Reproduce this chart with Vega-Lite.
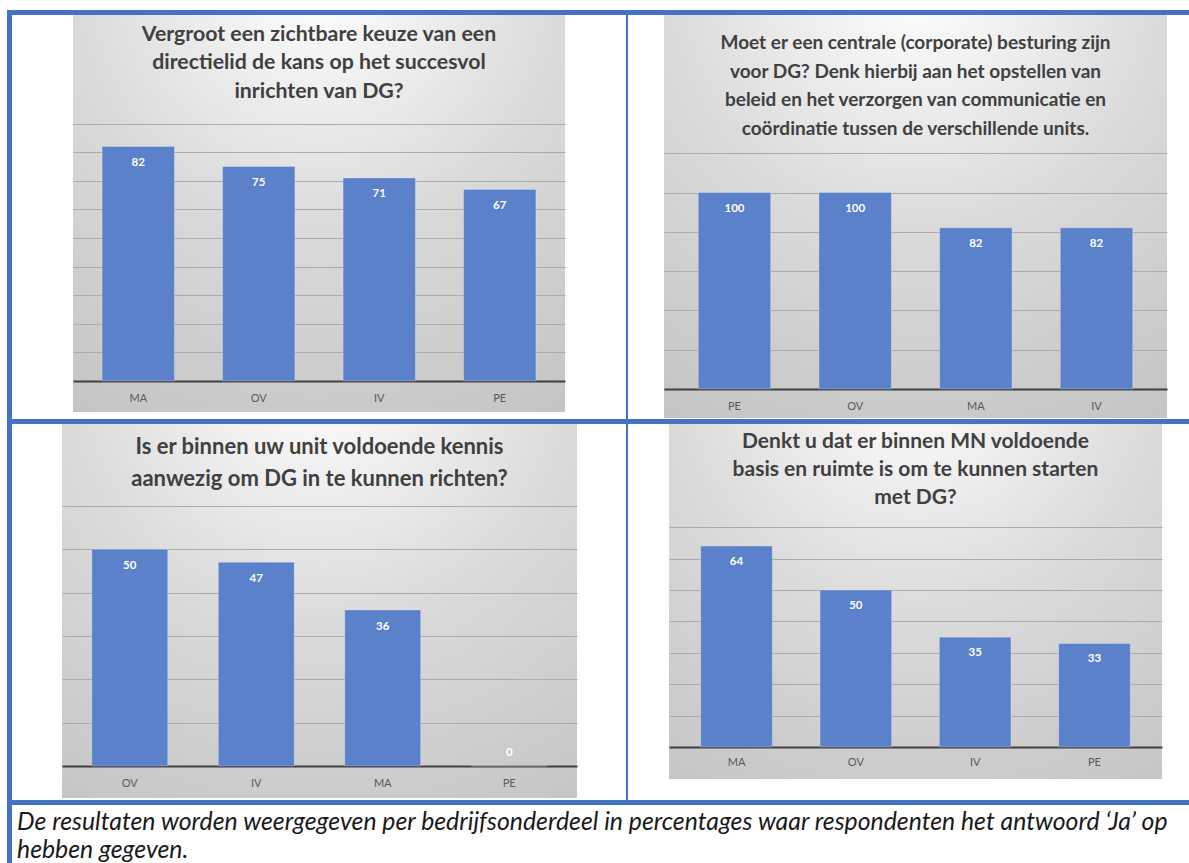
{
  "$schema": "https://vega.github.io/schema/vega-lite/v6.json",
  "background": "white",
  "padding": {"left": 7, "top": 10, "right": 0, "bottom": 0},
  "config": {"concat": {"spacing": 0}, "view": {"stroke": null}, "font": "Lato"},
  "datasets": {
    "q1": [{"unit": "MA", "pct": 82}, {"unit": "OV", "pct": 75}, {"unit": "IV", "pct": 71}, {"unit": "PE", "pct": 67}],
    "q2": [{"unit": "PE", "pct": 100}, {"unit": "OV", "pct": 100}, {"unit": "MA", "pct": 82}, {"unit": "IV", "pct": 82}],
    "q3": [{"unit": "OV", "pct": 50}, {"unit": "IV", "pct": 47}, {"unit": "MA", "pct": 36}, {"unit": "PE", "pct": 0}],
    "q4": [{"unit": "MA", "pct": 64}, {"unit": "OV", "pct": 50}, {"unit": "IV", "pct": 35}, {"unit": "PE", "pct": 33}]
  },
  "vconcat": [
    {"width": 1182, "height": 5, "data": {"values": [{}]}, "mark": {"type": "rect", "fill": "#4472c4"}},
    {"hconcat": [
      {"width": 5, "height": 404, "data": {"values": [{}]}, "mark": {"type": "rect", "fill": "#4472c4"}},
      {"width": 61, "height": 1, "data": {"values": [{}]}, "mark": {"type": "rect", "opacity": 0}},
      {
        "width": 492, "height": 397,
        "view": {"stroke": null, "fill": {"gradient": "radial", "x1": 0.5, "y1": 0.03, "r1": 0, "x2": 0.5, "y2": 0.03, "r2": 1, "stops": [{"offset": 0, "color": "#ffffff"}, {"offset": 0.5, "color": "#dadada"}, {"offset": 1, "color": "#c4c4c4"}]}},
        "data": {"name": "q1"},
        "layer": [
          {
            "mark": {"type": "bar", "color": "#5b81ca", "stroke": "#ffffff", "strokeOpacity": 0.25, "strokeWidth": 1},
            "encoding": {
              "x": {"field": "unit", "type": "nominal", "sort": null, "scale": {"paddingInner": 0.4, "paddingOuter": 0.2415},
                "axis": {"orient": "bottom", "offset": -31, "domain": true, "domainColor": "#404040", "domainWidth": 2, "ticks": false, "tickSize": 0, "labelPadding": 17, "labelBaseline": "middle", "labelColor": "#595959", "labelFontSize": 11, "labelAngle": 0, "title": null, "grid": false}},
              "y": {"field": "pct", "type": "quantitative", "scale": {"domain": [-10.839, 127.972], "nice": false, "zero": false},
                "axis": {"grid": true, "values": [10, 20, 30, 40, 50, 60, 70, 80, 90], "gridColor": "#ababab", "gridWidth": 1, "domain": false, "ticks": false, "labels": false, "title": null}}
            }
          },
          {
            "mark": {"type": "text", "color": "white", "fontWeight": "bold", "fontSize": 11.5, "dy": 16.5, "baseline": "middle"},
            "encoding": {
              "x": {"field": "unit", "type": "nominal", "sort": null},
              "y": {"field": "pct", "type": "quantitative"},
              "text": {"field": "pct", "type": "quantitative"}
            }
          },
          {
            "data": {"values": [{}]},
            "mark": {"type": "text", "fontWeight": "bold", "fontSize": 21.3, "lineHeight": 28.3, "color": "#404040", "baseline": "middle", "align": "center"},
            "encoding": {
              "y": {"datum": 120.98},
              "text": {"value": ["Vergroot een zichtbare keuze van een", "directielid de kans op het succesvol", "inrichten van DG?"]}
            }
          }
        ]
      },
      {"width": 61, "height": 1, "data": {"values": [{}]}, "mark": {"type": "rect", "opacity": 0}},
      {"width": 2, "height": 404, "data": {"values": [{}]}, "mark": {"type": "rect", "fill": "#4472c4"}},
      {"width": 36, "height": 1, "data": {"values": [{}]}, "mark": {"type": "rect", "opacity": 0}},
      {
        "width": 503, "height": 403,
        "view": {"stroke": null, "fill": {"gradient": "radial", "x1": 0.5, "y1": 0.03, "r1": 0, "x2": 0.5, "y2": 0.03, "r2": 1, "stops": [{"offset": 0, "color": "#ffffff"}, {"offset": 0.5, "color": "#dadada"}, {"offset": 1, "color": "#c4c4c4"}]}},
        "data": {"name": "q2"},
        "layer": [
          {
            "mark": {"type": "bar", "color": "#5b81ca", "stroke": "#ffffff", "strokeOpacity": 0.25, "strokeWidth": 1},
            "encoding": {
              "x": {"field": "unit", "type": "nominal", "sort": null, "scale": {"paddingInner": 0.4, "paddingOuter": 0.284},
                "axis": {"orient": "bottom", "offset": -29, "domain": true, "domainColor": "#404040", "domainWidth": 2, "ticks": false, "tickSize": 0, "labelPadding": 17, "labelBaseline": "middle", "labelColor": "#595959", "labelFontSize": 11, "labelAngle": 0, "title": null, "grid": false}},
              "y": {"field": "pct", "type": "quantitative", "scale": {"domain": [-14.758, 190.331], "nice": false, "zero": false},
                "axis": {"grid": true, "values": [20, 40, 60, 80, 100, 120], "gridColor": "#ababab", "gridWidth": 1, "domain": false, "ticks": false, "labels": false, "title": null}}
            }
          },
          {
            "mark": {"type": "text", "color": "white", "fontWeight": "bold", "fontSize": 11.5, "dy": 16.5, "baseline": "middle"},
            "encoding": {
              "x": {"field": "unit", "type": "nominal", "sort": null},
              "y": {"field": "pct", "type": "quantitative"},
              "text": {"field": "pct", "type": "quantitative"}
            }
          },
          {
            "data": {"values": [{}]},
            "mark": {"type": "text", "fontWeight": "bold", "fontSize": 19, "lineHeight": 28.6, "color": "#404040", "baseline": "middle", "align": "center"},
            "encoding": {
              "y": {"datum": 176.08},
              "text": {"value": ["Moet er een centrale (corporate) besturing zijn", "voor DG? Denk hierbij aan het opstellen van", "beleid en het verzorgen van communicatie en", "coördinatie tussen de verschillende units."]}
            }
          }
        ]
      }
    ]},
    {"width": 1182, "height": 5, "data": {"values": [{}]}, "mark": {"type": "rect", "fill": "#4472c4"}},
    {"hconcat": [
      {"width": 5, "height": 376, "data": {"values": [{}]}, "mark": {"type": "rect", "fill": "#4472c4"}},
      {"width": 50, "height": 1, "data": {"values": [{}]}, "mark": {"type": "rect", "opacity": 0}},
      {
        "width": 515, "height": 374,
        "view": {"stroke": null, "fill": {"gradient": "radial", "x1": 0.5, "y1": 0.03, "r1": 0, "x2": 0.5, "y2": 0.03, "r2": 1, "stops": [{"offset": 0, "color": "#ffffff"}, {"offset": 0.5, "color": "#dadada"}, {"offset": 1, "color": "#c4c4c4"}]}},
        "data": {"name": "q3"},
        "layer": [
          {
            "mark": {"type": "bar", "color": "#5b81ca", "stroke": "#ffffff", "strokeOpacity": 0.25, "strokeWidth": 1},
            "encoding": {
              "x": {"field": "unit", "type": "nominal", "sort": null, "scale": {"paddingInner": 0.4, "paddingOuter": 0.236},
                "axis": {"orient": "bottom", "offset": -32, "domain": true, "domainColor": "#404040", "domainWidth": 2, "ticks": false, "tickSize": 0, "labelPadding": 17, "labelBaseline": "middle", "labelColor": "#595959", "labelFontSize": 11, "labelAngle": 0, "title": null, "grid": false}},
              "y": {"field": "pct", "type": "quantitative", "scale": {"domain": [-7.385, 78.929], "nice": false, "zero": false},
                "axis": {"grid": true, "values": [10, 20, 30, 40, 50, 60], "gridColor": "#ababab", "gridWidth": 1, "domain": false, "ticks": false, "labels": false, "title": null}}
            }
          },
          {
            "transform": [{"filter": "datum.pct > 0"}],
            "mark": {"type": "text", "color": "white", "fontWeight": "bold", "fontSize": 11.5, "dy": 16.5, "baseline": "middle"},
            "encoding": {
              "x": {"field": "unit", "type": "nominal", "sort": null},
              "y": {"field": "pct", "type": "quantitative"},
              "text": {"field": "pct", "type": "quantitative"}
            }
          },
          {
            "transform": [{"filter": "datum.pct == 0"}],
            "mark": {"type": "text", "color": "white", "fontWeight": "bold", "fontSize": 11.5, "dy": -13, "baseline": "middle"},
            "encoding": {
              "x": {"field": "unit", "type": "nominal", "sort": null},
              "y": {"field": "pct", "type": "quantitative"},
              "text": {"field": "pct", "type": "quantitative"}
            }
          },
          {
            "data": {"values": [{}]},
            "mark": {"type": "text", "fontWeight": "bold", "fontSize": 22, "lineHeight": 31.7, "color": "#404040", "baseline": "middle", "align": "center"},
            "encoding": {
              "y": {"datum": 73.6},
              "text": {"value": ["Is er binnen uw unit voldoende kennis", "aanwezig om DG in te kunnen richten?"]}
            }
          }
        ]
      },
      {"width": 49, "height": 1, "data": {"values": [{}]}, "mark": {"type": "rect", "opacity": 0}},
      {"width": 2, "height": 376, "data": {"values": [{}]}, "mark": {"type": "rect", "fill": "#4472c4"}},
      {"width": 41, "height": 1, "data": {"values": [{}]}, "mark": {"type": "rect", "opacity": 0}},
      {
        "width": 493, "height": 355,
        "view": {"stroke": null, "fill": {"gradient": "radial", "x1": 0.5, "y1": 0.03, "r1": 0, "x2": 0.5, "y2": 0.03, "r2": 1, "stops": [{"offset": 0, "color": "#ffffff"}, {"offset": 0.5, "color": "#dadada"}, {"offset": 1, "color": "#c4c4c4"}]}},
        "data": {"name": "q4"},
        "layer": [
          {
            "mark": {"type": "bar", "color": "#5b81ca", "stroke": "#ffffff", "strokeOpacity": 0.25, "strokeWidth": 1},
            "encoding": {
              "x": {"field": "unit", "type": "nominal", "sort": null, "scale": {"paddingInner": 0.4, "paddingOuter": 0.266},
                "axis": {"orient": "bottom", "offset": -32, "domain": true, "domainColor": "#404040", "domainWidth": 2, "ticks": false, "tickSize": 0, "labelPadding": 15.7, "labelBaseline": "middle", "labelColor": "#595959", "labelFontSize": 11, "labelAngle": 0, "title": null, "grid": false}},
              "y": {"field": "pct", "type": "quantitative", "scale": {"domain": [-10.194, 102.899], "nice": false, "zero": false},
                "axis": {"grid": true, "values": [10, 20, 30, 40, 50, 60, 70], "gridColor": "#ababab", "gridWidth": 1, "domain": false, "ticks": false, "labels": false, "title": null}}
            }
          },
          {
            "mark": {"type": "text", "color": "white", "fontWeight": "bold", "fontSize": 11.5, "dy": 15.5, "baseline": "middle"},
            "encoding": {
              "x": {"field": "unit", "type": "nominal", "sort": null},
              "y": {"field": "pct", "type": "quantitative"},
              "text": {"field": "pct", "type": "quantitative"}
            }
          },
          {
            "data": {"values": [{}]},
            "mark": {"type": "text", "fontWeight": "bold", "fontSize": 21, "lineHeight": 28, "color": "#404040", "baseline": "middle", "align": "center"},
            "encoding": {
              "y": {"datum": 97.26},
              "text": {"value": ["Denkt u dat er binnen MN voldoende", "basis en ruimte is om te kunnen starten", "met DG?"]}
            }
          }
        ]
      }
    ]},
    {"width": 1182, "height": 5, "data": {"values": [{}]}, "mark": {"type": "rect", "fill": "#4472c4"}},
    {"hconcat": [
      {"width": 5, "height": 58, "data": {"values": [{}]}, "mark": {"type": "rect", "fill": "#4472c4"}},
      {"vconcat": [
        {"width": 1, "height": 5, "data": {"values": [{}]}, "mark": {"type": "rect", "opacity": 0}},
        {
          "width": 1177, "height": 1,
          "data": {"values": [{}]},
          "mark": {"type": "rect", "opacity": 0},
          "title": {
            "text": ["De resultaten worden weergegeven per bedrijfsonderdeel in percentages waar respondenten het antwoord ‘Ja’ op", "hebben gegeven."],
            "anchor": "start", "orient": "top", "frame": "group", "offset": 0, "dx": 5,
            "baseline": "top", "lineHeight": 28,
            "font": "Lato", "fontStyle": "italic", "fontWeight": "normal", "fontSize": 24.8, "color": "#1a1a1a"
          }
        }
      ]}
    ]}
  ]
}
